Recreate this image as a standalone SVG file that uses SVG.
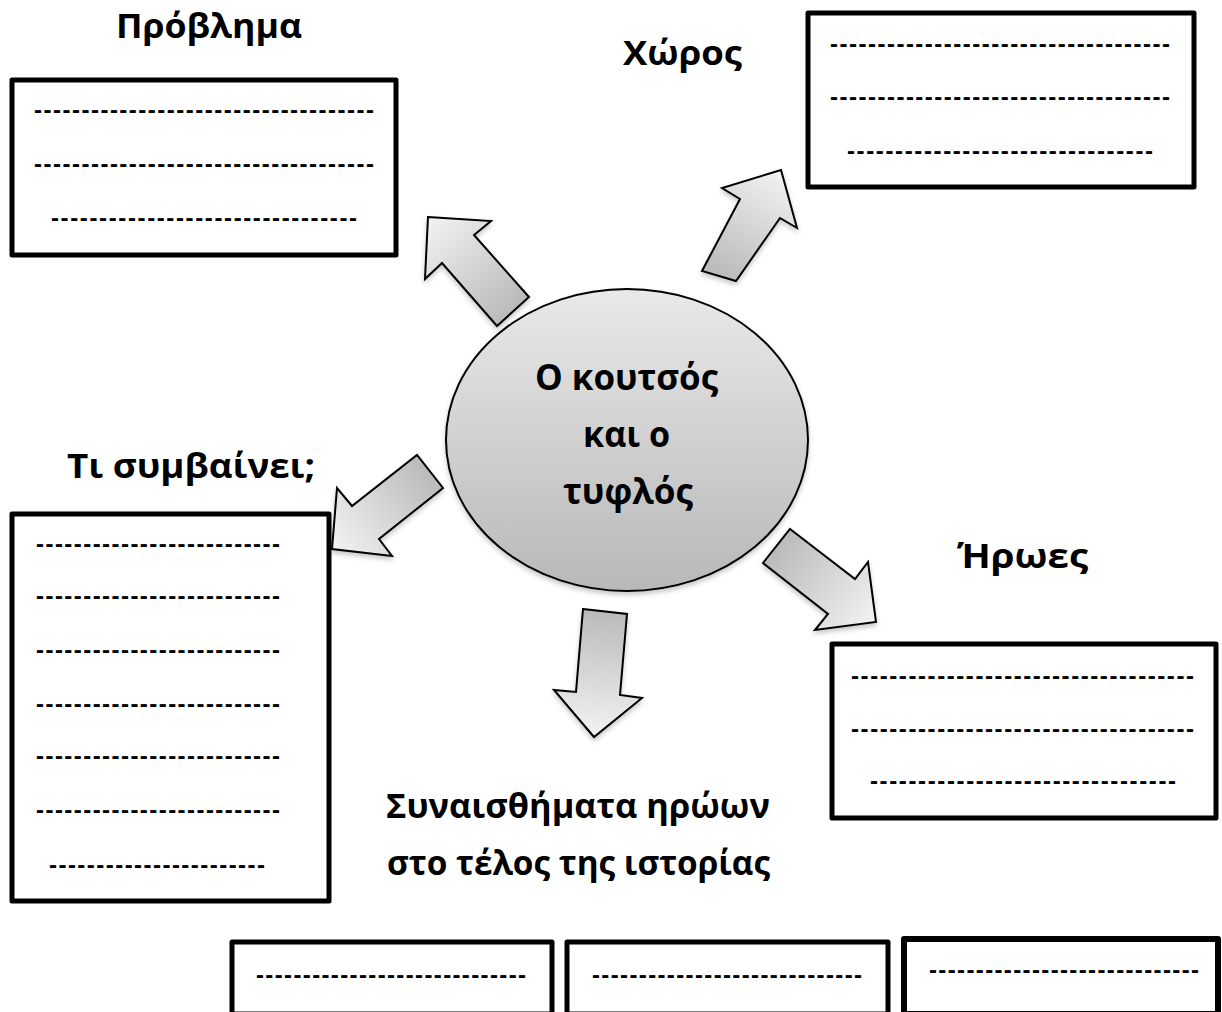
<svg xmlns="http://www.w3.org/2000/svg" xmlns:xlink="http://www.w3.org/1999/xlink" width="1222" height="1012" viewBox="0 0 1222 1012">
<style>
.box{fill:#ffffff;stroke:#000000;stroke-width:5;stroke-linejoin:round}
.title{font-family:"Open Sans","Noto Sans","Liberation Sans",sans-serif;font-weight:bold;font-size:34px;fill:#000000}
.big{font-size:36px}
.dash{font-family:"Liberation Sans",Arial,sans-serif;font-weight:bold;font-size:24px;fill:#000000}
.arrow{stroke:#000000;stroke-width:2;stroke-linejoin:miter;filter:url(#sh)}
</style>
<defs>
<linearGradient id="gbase">
<stop offset="0" stop-color="#bababa"/>
<stop offset="1" stop-color="#f3f3f3"/>
</linearGradient>
<linearGradient id="g1" href="#gbase" xlink:href="#gbase" gradientUnits="userSpaceOnUse" x1="513" y1="311" x2="428" y2="217"/>
<linearGradient id="g2" href="#gbase" xlink:href="#gbase" gradientUnits="userSpaceOnUse" x1="719" y1="276" x2="781" y2="170"/>
<linearGradient id="g3" href="#gbase" xlink:href="#gbase" gradientUnits="userSpaceOnUse" x1="430" y1="471" x2="332" y2="549"/>
<linearGradient id="g4" href="#gbase" xlink:href="#gbase" gradientUnits="userSpaceOnUse" x1="776" y1="546" x2="876" y2="622"/>
<linearGradient id="g5" href="#gbase" xlink:href="#gbase" gradientUnits="userSpaceOnUse" x1="605" y1="611" x2="594" y2="737"/>
<linearGradient id="gell" x1="0" y1="0" x2="0" y2="1">
<stop offset="0" stop-color="#e9e9e9"/>
<stop offset="1" stop-color="#b8b8b8"/>
</linearGradient>
<filter id="sh" x="-20%" y="-20%" width="140%" height="140%">
<feDropShadow dx="0" dy="3" stdDeviation="2.5" flood-color="#000000" flood-opacity="0.22"/>
</filter>
</defs>
<rect width="1222" height="1012" fill="#ffffff"/>

<g id="connectors">
<polygon class="arrow" fill="url(#g1)" points="428,217 491,221 474,235 529,297 497,326 442,263 425,279"/>
<polygon class="arrow" fill="url(#g2)" points="781,170 797,228 780,218 736,281 702,271 740,199 722,188"/>
<polygon class="arrow" fill="url(#g3)" points="332,549 337,488 352,506 417,455 443,488 379,539 392,556"/>
<polygon class="arrow" fill="url(#g4)" points="790,529 855,579 868,562 876,622 815,630 828,614 763,563"/>
<polygon class="arrow" fill="url(#g5)" points="583,609 627,614 620,695 642,698 594,737 554,690 576,692"/>
</g>

<g id="center">
<ellipse cx="627" cy="440" rx="181" ry="151" fill="url(#gell)" stroke="#000000" stroke-width="2" filter="url(#sh)"/>
<text class="title big" x="535" y="390" textLength="183" lengthAdjust="spacingAndGlyphs">Ο κουτσός</text>
<text class="title big" x="583" y="447" textLength="87" lengthAdjust="spacingAndGlyphs">και ο</text>
<text class="title big" x="563" y="504" textLength="130" lengthAdjust="spacingAndGlyphs">τυφλός</text>
</g>

<g id="problem">
<text class="title" x="116" y="38" textLength="186" lengthAdjust="spacingAndGlyphs">Πρόβλημα</text>
<rect class="box" x="12" y="80" width="384" height="175"/>
<text class="dash" x="34" y="118" textLength="340" lengthAdjust="spacing">------------------------------------</text>
<text class="dash" x="34" y="172" textLength="340" lengthAdjust="spacing">------------------------------------</text>
<text class="dash" x="51" y="226" textLength="306" lengthAdjust="spacing">--------------------------------</text>
</g>

<g id="place">
<text class="title" x="623" y="65" textLength="119" lengthAdjust="spacingAndGlyphs">Χώρος</text>
<rect class="box" x="808" y="13" width="386" height="174"/>
<text class="dash" x="830" y="52" textLength="340" lengthAdjust="spacing">------------------------------------</text>
<text class="dash" x="830" y="105" textLength="340" lengthAdjust="spacing">------------------------------------</text>
<text class="dash" x="847" y="159" textLength="306" lengthAdjust="spacing">--------------------------------</text>
</g>

<g id="events">
<text class="title" x="67" y="478" textLength="248" lengthAdjust="spacingAndGlyphs">Τι συμβαίνει;</text>
<rect class="box" x="12" y="514" width="317" height="387"/>
<text class="dash" x="36" y="552" textLength="244" lengthAdjust="spacing">--------------------------</text>
<text class="dash" x="36" y="604" textLength="244" lengthAdjust="spacing">--------------------------</text>
<text class="dash" x="36" y="658" textLength="244" lengthAdjust="spacing">--------------------------</text>
<text class="dash" x="36" y="712" textLength="244" lengthAdjust="spacing">--------------------------</text>
<text class="dash" x="36" y="764" textLength="244" lengthAdjust="spacing">--------------------------</text>
<text class="dash" x="36" y="818" textLength="244" lengthAdjust="spacing">--------------------------</text>
<text class="dash" x="49" y="873" textLength="216" lengthAdjust="spacing">-----------------------</text>
</g>

<g id="heroes">
<text class="title" x="957" y="568" textLength="131" lengthAdjust="spacingAndGlyphs">Ήρωες</text>
<rect class="box" x="832" y="644" width="384" height="174"/>
<text class="dash" x="851" y="684" textLength="343" lengthAdjust="spacing">------------------------------------</text>
<text class="dash" x="851" y="737" textLength="343" lengthAdjust="spacing">------------------------------------</text>
<text class="dash" x="870" y="789" textLength="306" lengthAdjust="spacing">--------------------------------</text>
</g>

<g id="feelings">
<text class="title" x="386" y="818" textLength="384" lengthAdjust="spacingAndGlyphs">Συναισθήματα ηρώων</text>
<text class="title" x="387" y="875" textLength="383" lengthAdjust="spacingAndGlyphs">στο τέλος της ιστορίας</text>
</g>

<g id="feel1">
<rect class="box" x="232" y="942" width="320" height="72"/>
<text class="dash" x="256" y="983" textLength="270" lengthAdjust="spacing">-----------------------------</text>
</g>
<g id="feel2">
<rect class="box" x="567" y="942" width="321" height="72"/>
<text class="dash" x="592" y="983" textLength="270" lengthAdjust="spacing">-----------------------------</text>
</g>
<g id="feel3">
<rect class="box" x="904" y="939" width="314" height="75" style="stroke-width:6"/>
<text class="dash" x="929" y="978" textLength="270" lengthAdjust="spacing">-----------------------------</text>
</g>
</svg>
